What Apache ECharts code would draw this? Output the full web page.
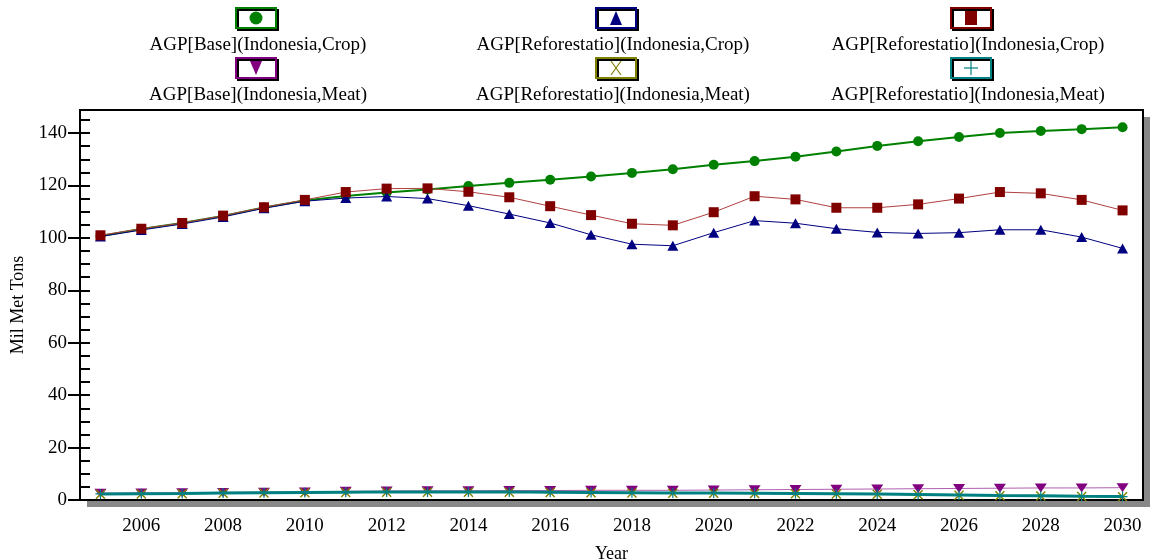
<!DOCTYPE html>
<html lang="en">
<head>
<meta charset="UTF-8">
<title>AGP Indonesia</title>
<style>
  html, body { margin: 0; padding: 0; background: #fff; }
  #main { width: 1153px; height: 560px; }
</style>
</head>
<body>
<div id="main"></div>
<script src="https://cdn.jsdelivr.net/npm/echarts@6/dist/echarts.min.js"></script>
<script>
  // data
  var years = ['2005','2006','2007','2008','2009','2010','2011','2012','2013','2014','2015','2016','2017',
               '2018','2019','2020','2021','2022','2023','2024','2025','2026','2027','2028','2029','2030'];
  var yTicks = [0, 20, 40, 60, 80, 100, 120, 140];

  var baseCrop = [100.7,103.4,105.7,108.4,111.6,114.3,116.0,117.3,118.5,119.8,121.0,122.2,123.4,
                  124.8,126.2,127.9,129.3,131.0,133.0,135.1,136.9,138.5,140.0,140.8,141.5,142.2];
  var reforCropA = [100.5,103.0,105.3,108.0,111.3,114.0,115.2,115.8,115.0,112.3,109.1,105.7,101.2,
                    97.6,97.0,102.0,106.6,105.6,103.5,102.1,101.7,102.0,103.1,103.1,100.3,96.0];
  var reforCropB = [101.0,103.5,105.7,108.5,111.7,114.5,117.5,118.8,118.9,117.6,115.5,112.1,108.7,
                    105.4,104.8,109.8,115.9,114.7,111.5,111.5,112.8,115.0,117.5,117.0,114.5,110.5];
  var baseMeat = [2.6,2.7,2.8,2.9,3.0,3.1,3.3,3.4,3.5,3.5,3.6,3.6,3.7,
                  3.7,3.7,3.8,3.9,4.0,4.1,4.2,4.3,4.4,4.5,4.6,4.6,4.7];
  var reforMeatA = [2.2,2.3,2.4,2.6,2.7,2.8,2.9,3.0,3.0,3.0,3.0,2.9,2.8,
                    2.7,2.6,2.6,2.5,2.4,2.3,2.2,2.0,1.8,1.6,1.5,1.3,1.2];
  var reforMeatB = [2.3,2.4,2.5,2.7,2.8,2.9,3.0,3.1,3.1,3.1,3.1,3.0,2.9,
                    2.8,2.7,2.7,2.6,2.5,2.4,2.3,2.1,1.9,1.7,1.6,1.4,1.3];

  var names = ['AGP[Base](Indonesia,Crop)', 'AGP[Reforestatio](Indonesia,Crop)', 'AGP[Reforestatio](Indonesia,Crop)',
               'AGP[Base](Indonesia,Meat)', 'AGP[Reforestatio](Indonesia,Meat)', 'AGP[Reforestatio](Indonesia,Meat)'];
  var colors = ['#008000', '#000080', '#800000', '#800080', '#808000', '#008080'];

  var FONT = '"Liberation Serif", "DejaVu Serif", serif';
  var xSym = 'path://M1,0 L5,4 L9,0 L10,1 L6,5 L10,9 L9,10 L5,6 L1,10 L0,9 L4,5 L0,1 Z';
  var plusSym = 'path://M4.4,0 h1.2 v4.4 h4.4 v1.2 h-4.4 v4.4 h-1.2 v-4.4 h-4.4 v-1.2 h4.4 Z';

  function evenYear(idx, val) { return Number(val) % 2 === 0; }

  // drop shadow of the plot frame (right and bottom strips)
  var graphics = [
    { type: 'rect', z: 0, shape: { x: 87, y: 501, width: 1063, height: 6 }, style: { fill: '#888' } },
    { type: 'rect', z: 0, shape: { x: 1144, y: 117, width: 6, height: 390 }, style: { fill: '#888' } }
  ];

  // legend boxes drawn as graphics, text kept as text
  var colX = [256, 616, 971];
  var textX = [258, 613, 968];
  for (var i = 0; i < 6; i++) {
    var cx = colX[i % 3];
    var by = i < 3 ? 18 : 68;
    var c = colors[i];
    var inner;
    if (i === 0) inner = { type: 'circle', shape: { cx: cx, cy: by, r: 6.5 }, style: { fill: c } };
    else if (i === 1) inner = { type: 'polygon', shape: { points: [[cx, by - 7], [cx - 6, by + 7], [cx + 6, by + 7]] }, style: { fill: c } };
    else if (i === 2) inner = { type: 'rect', shape: { x: cx - 6, y: by - 7, width: 12, height: 14 }, style: { fill: c } };
    else if (i === 3) inner = { type: 'polygon', shape: { points: [[cx - 6, by - 7], [cx + 6, by - 7], [cx, by + 7]] }, style: { fill: c } };
    else if (i === 4) inner = { type: 'polyline', shape: { points: [[cx - 5, by - 7], [cx + 5, by + 7]] }, style: { stroke: c, lineWidth: 1.2 } };
    else inner = { type: 'polyline', shape: { points: [[cx, by - 7], [cx, by + 7]] }, style: { stroke: c, lineWidth: 1.2 } };
    graphics.push({
      type: 'rect', z: 10,
      shape: { x: cx - 20, y: by - 10, width: 40, height: 20 },
      style: { fill: '#fff', stroke: c, lineWidth: 2, shadowColor: '#000', shadowOffsetX: 2, shadowOffsetY: 2, shadowBlur: 0 }
    });
    inner.z = 11;
    graphics.push(inner);
    if (i === 4) {
      graphics.push({ type: 'polyline', z: 11, shape: { points: [[cx + 5, by - 7], [cx - 5, by + 7]] }, style: { stroke: c, lineWidth: 1.2 } });
    }
    if (i === 5) {
      graphics.push({ type: 'polyline', z: 11, shape: { points: [[cx - 7, by], [cx + 7, by]] }, style: { stroke: c, lineWidth: 1.2 } });
    }
    graphics.push({
      type: 'text', z: 11,
      x: textX[i % 3], y: i < 3 ? 45 : 95,
      style: { text: names[i], fill: '#000', font: '19px ' + FONT, textAlign: 'center', textVerticalAlign: 'middle' }
    });
  }

  var chart = echarts.init(document.getElementById('main'));
  var option = {
    backgroundColor: '#fff',
    animation: false,
    textStyle: { fontFamily: FONT },
    grid: {
      left: 80, right: 10, top: 110, bottom: 60,
      outerBoundsMode: 'none', containLabel: false,
      show: true, backgroundColor: 'transparent', borderColor: '#000', borderWidth: 2
    },
    graphic: graphics,
    xAxis: [
      {
        type: 'category', data: years, boundaryGap: true,
        name: 'Year', nameLocation: 'middle', nameGap: 45,
        nameTextStyle: { color: '#000', fontSize: 18, fontFamily: FONT },
        axisLine: { lineStyle: { color: '#000', width: 2 } },
        axisTick: { alignWithLabel: true, interval: evenYear, length: 14, lineStyle: { color: '#000', width: 2 } },
        axisLabel: { interval: evenYear, color: '#000', fontSize: 19, fontFamily: FONT, margin: 17 },
        splitLine: { show: false }
      },
      {
        type: 'category', data: years, boundaryGap: true, position: 'bottom',
        axisLine: { show: false },
        axisTick: { inside: true, alignWithLabel: true, interval: evenYear, length: 13, lineStyle: { color: '#000', width: 2 } },
        axisLabel: { show: false },
        splitLine: { show: false }
      }
    ],
    yAxis: [
      {
        type: 'value', min: 0, max: 148.8, interval: 20,
        name: 'Mil Met Tons', nameLocation: 'middle', nameGap: 52, nameRotate: 90,
        nameTextStyle: { color: '#000', fontSize: 18, fontFamily: FONT },
        axisLine: { show: true, lineStyle: { color: '#000', width: 2 } },
        axisTick: { show: true, length: 12, lineStyle: { color: '#000', width: 2 } },
        axisLabel: {
          color: '#000', fontSize: 19, fontFamily: FONT, margin: 13, showMaxLabel: false,
          formatter: function (v) { return yTicks.indexOf(v) >= 0 ? String(v) : ''; }
        },
        splitLine: { show: false }
      },
      {
        type: 'value', min: 0, max: 148.8, interval: 5, position: 'left',
        axisLine: { show: false },
        axisTick: { show: true, inside: true, length: 10, lineStyle: { color: '#000', width: 2 } },
        axisLabel: { show: false },
        splitLine: { show: false }
      }
    ],
    series: [
      {
        name: names[0], type: 'line', data: baseCrop, symbol: 'circle', symbolSize: 10,
        itemStyle: { color: colors[0] }, lineStyle: { color: colors[0], width: 2 }, z: 3
      },
      {
        name: names[1], type: 'line', data: reforCropA, symbol: 'triangle', symbolSize: [11, 10],
        itemStyle: { color: colors[1] }, lineStyle: { color: colors[1], width: 1 }, z: 4
      },
      {
        name: names[2], type: 'line', data: reforCropB, symbol: 'rect', symbolSize: 10,
        itemStyle: { color: colors[2] }, lineStyle: { color: '#b04040', width: 1 }, z: 5
      },
      {
        name: names[3], type: 'line', data: baseMeat, symbol: 'triangle', symbolRotate: 180, symbolSize: [12, 9],
        itemStyle: { color: colors[3] }, lineStyle: { color: '#b060b0', width: 1 }, z: 3
      },
      {
        name: names[4], type: 'line', data: reforMeatA, symbol: xSym, symbolSize: 10,
        itemStyle: { color: colors[4] }, lineStyle: { color: colors[4], width: 1 }, z: 4
      },
      {
        name: names[5], type: 'line', data: reforMeatB, symbol: plusSym, symbolSize: 10,
        itemStyle: { color: colors[5] }, lineStyle: { color: colors[5], width: 3 }, z: 5
      }
    ]
  };
  chart.setOption(option);
  window.addEventListener('resize', function () { chart.resize(); });
</script>
</body>
</html>
